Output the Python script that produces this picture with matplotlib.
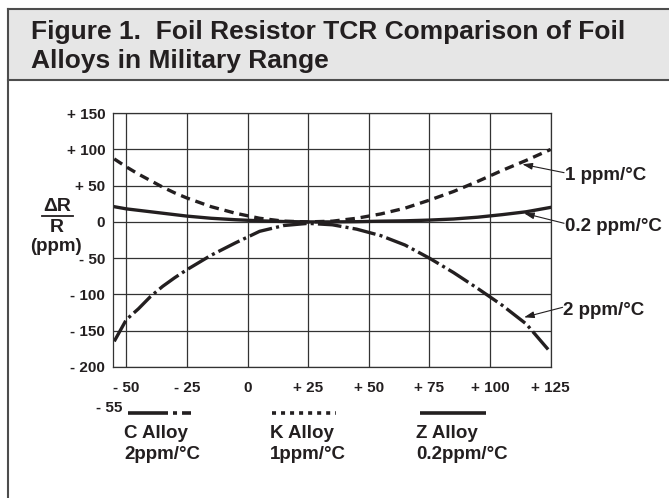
import matplotlib
matplotlib.use("Agg")
import matplotlib.pyplot as plt
from matplotlib.patches import Rectangle
from matplotlib.lines import Line2D

plt.rcParams['font.family'] = ['Liberation Sans', 'DejaVu Sans']
plt.rcParams['font.weight'] = 'bold'
plt.rcParams['lines.scale_dashes'] = False

# --- data ---
temps = [-55, -50, -45, -40, -35, -30, -25, -15, -5, 5, 15, 25,
         35, 45, 55, 65, 75, 85, 95, 105, 115, 125]
c_alloy = [-165, -135, -120, -103, -89, -77, -66, -46, -29, -13, -5, -2,
           -4, -10, -19, -32, -50, -70, -92, -115, -141, -180]
k_alloy = [87, 76, 66, 57, 48, 40, 33, 21, 12, 5, 1, 0,
           1, 5, 11, 19, 30, 42, 56, 71, 85, 100]
z_alloy = [21, 18, 16, 14, 12, 10, 8, 5, 3, 1.5, 0.5, 0,
           0, 0.3, 1, 1.5, 2.5, 4, 6.5, 10, 14, 20]

x_ticks = [-50, -25, 0, 25, 50, 75, 100, 125]
x_labels = ['- 50', '- 25', '0', '+ 25', '+ 50', '+ 75', '+ 100', '+ 125']
y_ticks = [150, 100, 50, 0, -50, -100, -150, -200]
y_labels = ['+ 150', '+ 100', '+ 50', '0', '- 50', '- 100', '- 150', '- 200']

title_lines = ["Figure 1.  Foil Resistor TCR Comparison of Foil",
               "Alloys in Military Range"]
legend_names = ['C Alloy\n2ppm/°C', 'K Alloy\n1ppm/°C', 'Z Alloy\n0.2ppm/°C']
callouts = ['1 ppm/°C', '0.2 ppm/°C', '2 ppm/°C']

INK = '#231f20'
W, H = 669, 498

def fx(px):
    return px / W

def fy(py):
    return 1 - py / H

fig = plt.figure(figsize=(W / 100, H / 100), dpi=100)

# title band + frame
fig.patches.append(Rectangle((fx(8), fy(80)), 1, fy(9) - fy(80), transform=fig.transFigure,
                             facecolor='#e6e6e6', edgecolor='none', zorder=0))
for y in (9, 80):
    fig.add_artist(Line2D([fx(8), 1], [fy(y), fy(y)], color='#4d4d4d', lw=1.5))
fig.add_artist(Line2D([fx(8), fx(8)], [fy(9), 0], color='#4d4d4d', lw=1.5))
for line, base in zip(title_lines, (39, 68)):
    fig.text(fx(31), fy(base), line, ha='left', va='baseline', fontsize=19,
             color=INK)

# plot area
ax = fig.add_axes([fx(113), fy(366.7), fx(550.5) - fx(113), fy(113.3) - fy(366.7)])
ax.set_xlim(-55.5, 125)
ax.set_ylim(-200, 150)
ax.set_xticks(x_ticks, x_labels)
ax.set_yticks(y_ticks, y_labels)
ax.tick_params(length=0, labelsize=11, colors=INK)
ax.tick_params(axis='x', pad=10.5)
ax.tick_params(axis='y', pad=5.5)
ax.grid(True, color='#333333', lw=0.9)
for s in ax.spines.values():
    s.set_color('#333333')
    s.set_linewidth(0.9)

ax.plot(temps, k_alloy, color=INK, lw=2.4, dashes=(6.8, 4.2), solid_capstyle='butt')
ax.plot(temps, z_alloy, color=INK, lw=2.4)
ax.plot(temps, c_alloy, color=INK, lw=2.4, dashes=(17, 3, 2.2, 3))

# callouts with arrows
heads = [(113.4, 79.6), (114.1, 11.9), (114.1, -131.8)]
tails = [(130.6, 68), (130.6, -1.9), (130, -118)]
for txt, hd, tl in zip(callouts, heads, tails):
    ax.annotate('', xy=hd, xytext=tl, annotation_clip=False,
                arrowprops=dict(arrowstyle='-|>,head_length=0.6,head_width=0.2',
                                color=INK, lw=0.8, shrinkA=0, shrinkB=0))
    ax.text(tl[0] + 0.3, tl[1] - 4, txt, ha='left', va='center', fontsize=13.5,
            color=INK, clip_on=False)

# y axis label: dR / R (ppm)
fig.text(fx(57), fy(206), 'ΔR', ha='center', va='center', fontsize=14, color=INK)
fig.add_artist(Line2D([fx(42), fx(73)], [fy(216), fy(216)], color=INK, lw=1.3))
fig.text(fx(57), fy(228), 'R', ha='center', va='center', fontsize=14, color=INK)
fig.text(fx(56), fy(246.5), '(ppm)', ha='center', va='center', fontsize=13.5, color=INK)

# legend under the chart
fig.text(fx(122), fy(408), '- 55', ha='right', va='center', fontsize=11, color=INK)
sample_x = [(128, 191), (272, 336), (420, 486)]
sample_dash = [(28.8, 3.6, 2.9, 3.6, 6.5, 100), (2.9, 3.6), None]
text_x = [124, 270, 416]
for name, (x0, x1), dsh, tx in zip(legend_names, sample_x, sample_dash, text_x):
    ln = Line2D([fx(x0), fx(x1)], [fy(413), fy(413)], color=INK, lw=2.6,
                solid_capstyle='butt')
    if dsh is not None:
        ln.set_dashes(dsh)
    fig.add_artist(ln)
    fig.text(fx(tx), fy(444), name, ha='left', va='center', fontsize=13.5,
             color=INK, linespacing=1.3)

fig.savefig('out.png', dpi=100)
